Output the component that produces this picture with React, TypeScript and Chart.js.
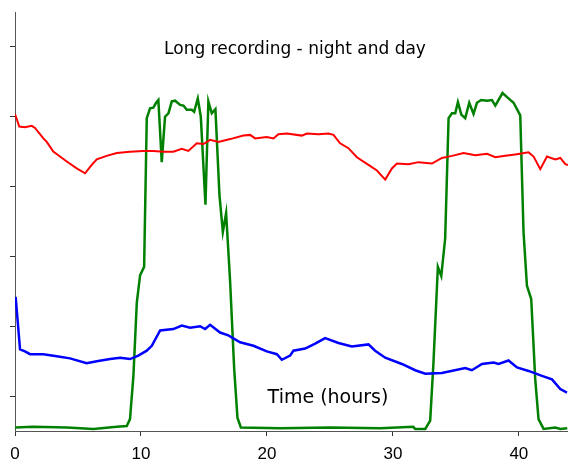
import React, { useEffect, useRef } from "react";
import { Chart, registerables } from "chart.js";

Chart.register(...registerables);

const xTicks = [0, 10, 20, 30, 40];
const yTicks = [0, 1, 2, 3, 4, 5];

const titleText = "Long recording - night and day";
const xLabelText = "Time (hours)";

const redHours = [0.0, 0.34, 0.79, 1.33, 1.59, 2.25, 2.52, 3.04, 3.57, 4.11, 4.9, 5.56, 6.09, 6.49, 7.28, 8.08, 9.13, 10.19, 10.98, 11.78, 12.57, 13.24, 13.76, 14.43, 14.96, 15.49, 16.15, 17.08, 18.13, 18.67, 19.06, 19.99, 20.52, 20.91, 21.58, 22.77, 23.17, 24.09, 24.88, 25.28, 25.81, 26.47, 27.14, 28.06, 28.73, 29.39, 29.92, 30.32, 31.24, 32.03, 33.1, 33.89, 34.69, 35.61, 36.54, 37.47, 38.13, 38.92, 39.71, 40.77, 41.17, 41.7, 42.23, 42.89, 43.29, 43.69, 43.9];
const redValues = [4.04, 3.86, 3.85, 3.87, 3.84, 3.69, 3.64, 3.5, 3.43, 3.36, 3.26, 3.19, 3.31, 3.39, 3.44, 3.48, 3.5, 3.51, 3.51, 3.5, 3.5, 3.54, 3.51, 3.62, 3.61, 3.67, 3.64, 3.68, 3.73, 3.74, 3.69, 3.71, 3.69, 3.75, 3.76, 3.73, 3.76, 3.75, 3.76, 3.74, 3.62, 3.55, 3.42, 3.31, 3.23, 3.1, 3.26, 3.33, 3.32, 3.35, 3.33, 3.41, 3.44, 3.48, 3.45, 3.47, 3.42, 3.44, 3.46, 3.49, 3.43, 3.25, 3.43, 3.39, 3.41, 3.32, 3.31];

const blueHours = [0.05, 0.4, 0.79, 1.19, 2.25, 3.31, 4.37, 5.69, 6.49, 7.55, 8.34, 9.13, 9.79, 10.46, 10.86, 11.52, 12.57, 13.24, 13.9, 14.69, 15.09, 15.49, 16.28, 16.94, 17.87, 18.93, 19.99, 20.79, 21.18, 21.84, 22.1, 23.03, 23.83, 24.62, 25.68, 26.74, 28.06, 28.59, 29.39, 30.71, 31.77, 32.57, 33.89, 35.74, 36.27, 37.07, 37.99, 38.39, 39.18, 39.85, 40.77, 41.83, 42.63, 43.29, 43.82];
const blueValues = [1.42, 0.67, 0.64, 0.6, 0.6, 0.57, 0.54, 0.47, 0.5, 0.53, 0.55, 0.53, 0.58, 0.65, 0.72, 0.94, 0.96, 1.01, 0.98, 1.0, 0.96, 1.02, 0.91, 0.87, 0.77, 0.72, 0.64, 0.6, 0.52, 0.58, 0.65, 0.68, 0.75, 0.83, 0.76, 0.71, 0.74, 0.65, 0.55, 0.46, 0.37, 0.32, 0.33, 0.4, 0.37, 0.46, 0.48, 0.46, 0.51, 0.41, 0.36, 0.29, 0.24, 0.1, 0.05];

const greenHours = [0.0, 1.43, 4.11, 6.22, 8.08, 8.87, 9.13, 9.4, 9.67, 9.93, 10.25, 10.46, 10.72, 10.98, 11.2, 11.38, 11.65, 11.91, 12.18, 12.45, 12.71, 13.11, 13.37, 13.64, 14.03, 14.22, 14.51, 14.75, 15.12, 15.35, 15.62, 15.91, 16.23, 16.5, 16.76, 17.08, 17.4, 17.66, 17.93, 21.05, 25.02, 28.99, 31.61, 31.77, 32.57, 32.96, 33.22, 33.57, 33.84, 34.15, 34.42, 34.69, 34.95, 35.16, 35.43, 35.74, 36.06, 36.4, 36.67, 37.01, 37.47, 37.86, 38.13, 38.7, 39.13, 39.58, 40.11, 40.37, 40.64, 40.98, 41.3, 41.56, 41.96, 42.89, 43.29, 43.84];
const greenValues = [-0.45, -0.44, -0.45, -0.47, -0.44, -0.43, -0.33, 0.29, 1.34, 1.73, 1.85, 3.98, 4.12, 4.13, 4.2, 4.24, 3.35, 4.0, 4.05, 4.22, 4.23, 4.17, 4.16, 4.1, 4.1, 4.07, 4.26, 4.0, 2.74, 4.22, 4.05, 4.11, 2.88, 2.35, 2.62, 1.63, 0.39, -0.31, -0.45, -0.46, -0.45, -0.46, -0.44, -0.47, -0.47, -0.35, 0.48, 1.85, 1.72, 2.26, 3.98, 4.05, 4.05, 4.21, 4.03, 3.98, 4.2, 4.04, 4.2, 4.24, 4.23, 4.24, 4.16, 4.34, 4.27, 4.2, 4.02, 2.35, 1.58, 1.39, 0.24, -0.33, -0.47, -0.45, -0.47, -0.46];

const toPoints = (xs: number[], ys: number[]) => xs.map((x, i) => ({ x, y: ys[i] }));

const textPlugin = {
  id: "innerTexts",
  afterDraw(chart: any) {
    const { ctx, chartArea } = chart;
    ctx.save();
    ctx.fillStyle = "#000";
    ctx.textAlign = "center";
    ctx.textBaseline = "middle";
    ctx.font = "17px 'DejaVu Sans'";
    ctx.fillText(titleText, chartArea.left + 280, chartArea.top + 38);
    ctx.font = "19px 'DejaVu Sans'";
    ctx.fillText(xLabelText, chartArea.left + 313, chartArea.bottom - 33);
    ctx.restore();
  },
};

export default function App() {
  const ref = useRef<HTMLCanvasElement>(null);
  useEffect(() => {
    if (!ref.current) return;
    const chart = new Chart(ref.current, {
      type: "line",
      data: {
        datasets: [
          { data: toPoints(redHours, redValues), borderColor: "#ff0000", borderWidth: 2, pointRadius: 0, tension: 0 },
          { data: toPoints(blueHours, blueValues), borderColor: "#0000ff", borderWidth: 2.5, pointRadius: 0, tension: 0 },
          { data: toPoints(greenHours, greenValues), borderColor: "#008000", borderWidth: 2.5, pointRadius: 0, tension: 0 },
        ],
      },
      options: {
        animation: false,
        responsive: true,
        maintainAspectRatio: false,
        layout: { padding: { left: 10, top: 12, right: 0, bottom: -14 } },
        plugins: { legend: { display: false }, tooltip: { enabled: false }, title: { display: false } },
        scales: {
          x: {
            type: "linear",
            min: 0,
            max: 43.9,
            afterBuildTicks: (scale: any) => { scale.ticks = xTicks.map((v) => ({ value: v })); },
            grid: { drawOnChartArea: false, drawTicks: true, tickLength: 5, color: "#333" },
            border: { display: true, color: "#555", width: 1 },
            ticks: { font: { family: "'Liberation Sans', Arial, sans-serif", size: 17, lineHeight: 31 / 17 }, color: "#000", padding: 3, maxRotation: 0 },
          },
          y: {
            type: "linear",
            min: -0.5,
            max: 5.5,
            afterBuildTicks: (scale: any) => { scale.ticks = yTicks.map((v) => ({ value: v })); },
            grid: { drawOnChartArea: false, drawTicks: true, tickLength: 5, color: "#333" },
            border: { display: true, color: "#555", width: 1 },
            ticks: { display: false },
          },
        },
      },
      plugins: [textPlugin],
    });
    return () => chart.destroy();
  }, []);
  return (
    <div style={{ position: "fixed", left: 0, top: 0, width: 568, height: 459 }}>
      <canvas ref={ref} />
    </div>
  );
}
